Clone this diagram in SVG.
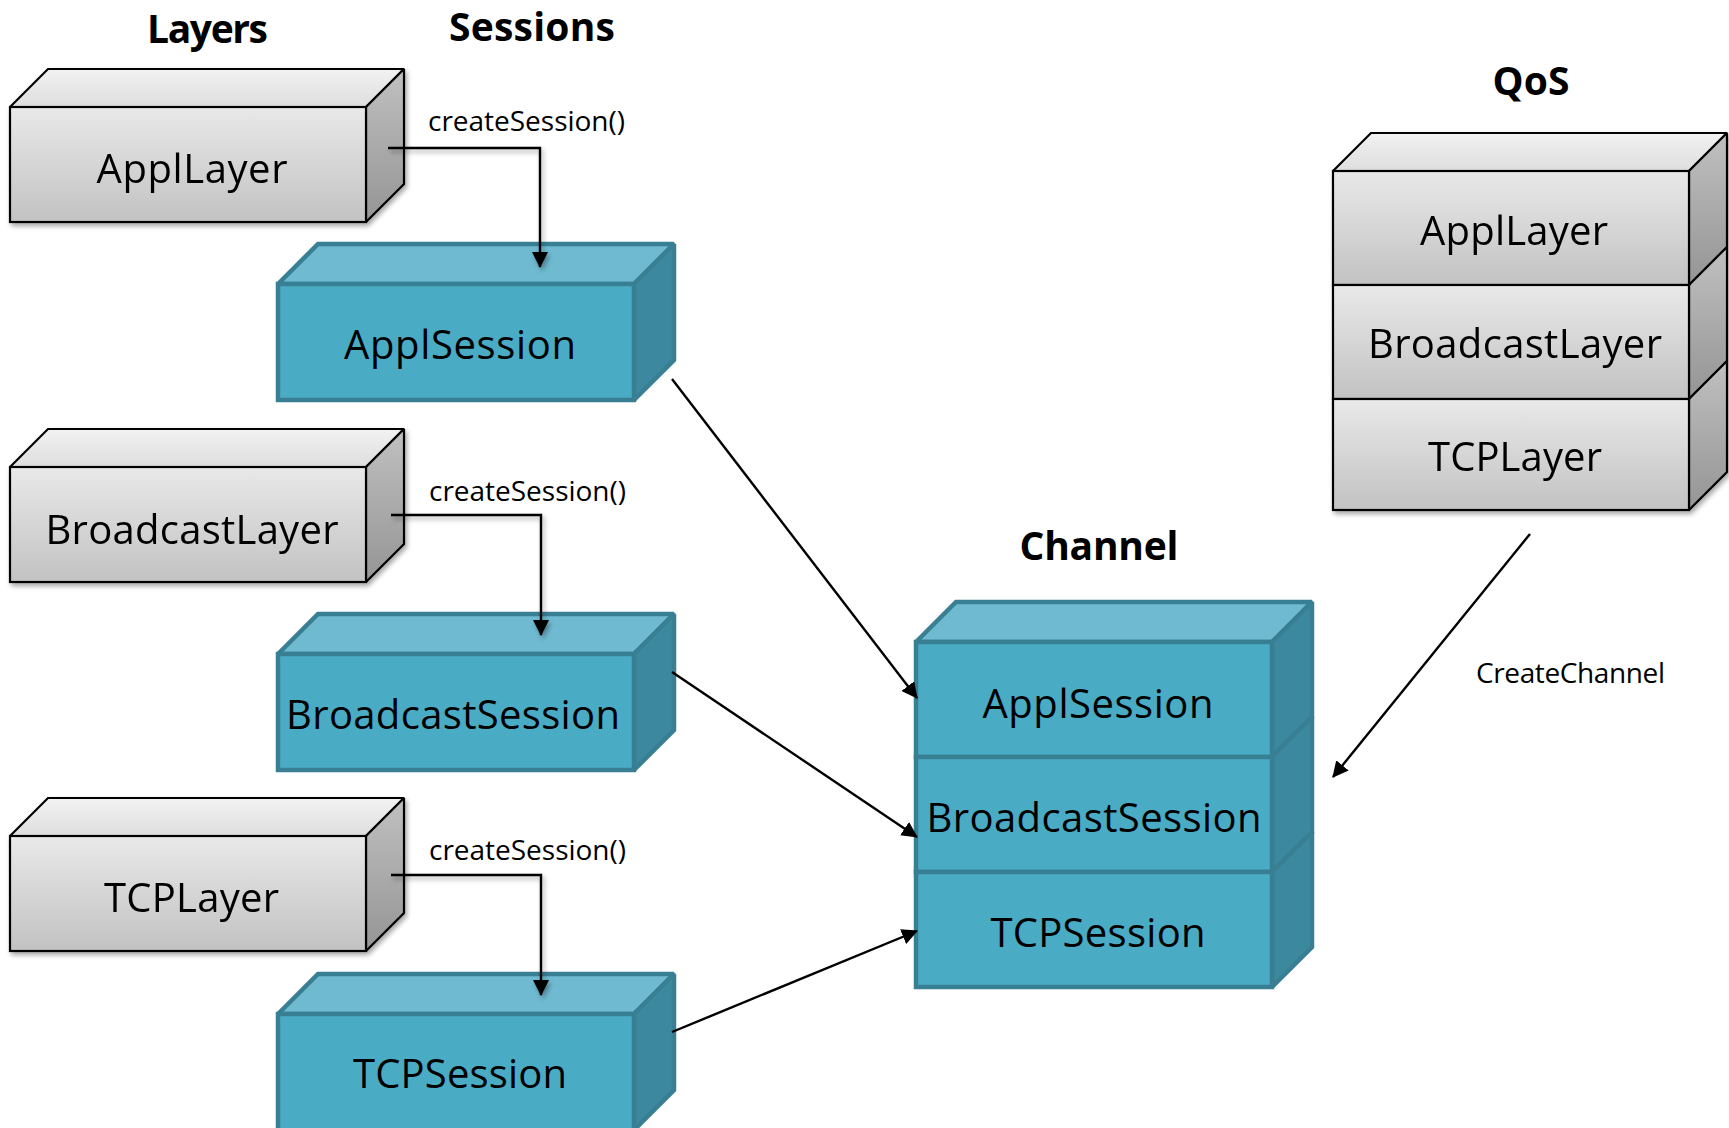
<svg xmlns="http://www.w3.org/2000/svg" width="1729" height="1128" viewBox="0 0 1729 1128">
  <defs>
    <linearGradient id="gFront" x1="0" y1="0" x2="0" y2="1">
      <stop offset="0" stop-color="#e9e9e9"/>
      <stop offset="1" stop-color="#c2c2c2"/>
    </linearGradient>
    <linearGradient id="gTop" x1="0" y1="0" x2="0" y2="1">
      <stop offset="0" stop-color="#f2f2f2"/>
      <stop offset="1" stop-color="#dedede"/>
    </linearGradient>
    <linearGradient id="gSide" x1="0" y1="0" x2="0" y2="1">
      <stop offset="0" stop-color="#c0c0c0"/>
      <stop offset="1" stop-color="#959595"/>
    </linearGradient>
    <filter id="shadow" x="-10%" y="-10%" width="130%" height="140%">
      <feGaussianBlur in="SourceAlpha" stdDeviation="2.5"/>
      <feOffset dx="2" dy="3" result="b"/>
      <feComponentTransfer><feFuncA type="linear" slope="0.35"/></feComponentTransfer>
      <feMerge><feMergeNode/><feMergeNode in="SourceGraphic"/></feMerge>
    </filter>
    <marker id="arrow" viewBox="0 0 16 16" refX="15" refY="8" markerWidth="16" markerHeight="16" markerUnits="userSpaceOnUse" orient="auto">
      <path d="M0,0 L16,8 L0,16 Z" fill="#000"/>
    </marker>
  </defs>
  <style>
    .title { font-family: "Open Sans", "Noto Sans", "Liberation Sans", sans-serif; font-weight: bold; font-size: 39px; fill: #000; text-anchor: middle; }
    .label { font-family: "Open Sans", "Noto Sans", "Liberation Sans", sans-serif; font-size: 40px; fill: #000; text-anchor: middle; }
    .small { font-family: "Open Sans", "Noto Sans", "Liberation Sans", sans-serif; font-size: 28px; fill: #000; text-anchor: middle; }
    .gray .front { fill: url(#gFront); }
    .gray .top { fill: url(#gTop); }
    .gray .side { fill: url(#gSide); }
    .gray path, .gray rect { stroke: #000; stroke-width: 2.2; stroke-linejoin: miter; stroke-miterlimit: 2; }
    .teal .front { fill: #4aabc5; }
    .teal .top { fill: #6fbad1; }
    .teal .side { fill: #3c899f; }
    .teal path, .teal rect { stroke: #387f94; stroke-width: 4.5; stroke-linejoin: miter; stroke-miterlimit: 2; }
    .conn { fill: none; stroke: #000; stroke-width: 2.4; }
  </style>

  <!-- column headings -->
  <g id="titles">
    <text class="title" x="207.5" y="43" textLength="121">Layers</text>
    <text class="title" x="532" y="41" textLength="166">Sessions</text>
    <text class="title" x="1099" y="560" textLength="159">Channel</text>
    <text class="title" x="1531" y="95" textLength="77">QoS</text>
  </g>

  <!-- layer boxes (left column) -->
  <g id="appl-layer" class="gray" filter="url(#shadow)">
    <path class="top" d="M10,107 L48,69 L404,69 L366,107 Z"/>
    <path class="side" d="M366,107 L404,69 L404,184 L366,222 Z"/>
    <rect class="front" x="10" y="107" width="356" height="115"/>
    <text class="label" x="192" y="183" textLength="191">ApplLayer</text>
  </g>
  <g id="broadcast-layer" class="gray" filter="url(#shadow)">
    <path class="top" d="M10,467 L48,429 L404,429 L366,467 Z"/>
    <path class="side" d="M366,467 L404,429 L404,544 L366,582 Z"/>
    <rect class="front" x="10" y="467" width="356" height="115"/>
    <text class="label" x="192" y="544" textLength="293">BroadcastLayer</text>
  </g>
  <g id="tcp-layer" class="gray" filter="url(#shadow)">
    <path class="top" d="M10,836 L48,798 L404,798 L366,836 Z"/>
    <path class="side" d="M366,836 L404,798 L404,913 L366,951 Z"/>
    <rect class="front" x="10" y="836" width="356" height="115"/>
    <text class="label" x="191.5" y="912" textLength="175">TCPLayer</text>
  </g>

  <!-- session boxes -->
  <g id="appl-session" class="teal">
    <path class="top" d="M278,284 L318,244 L674,244 L634,284 Z"/>
    <path class="side" d="M634,284 L674,244 L674,360 L634,400 Z"/>
    <rect class="front" x="278" y="284" width="356" height="116"/>
    <text class="label" x="460" y="359" textLength="232">ApplSession</text>
  </g>
  <g id="broadcast-session" class="teal">
    <path class="top" d="M278,654 L318,614 L674,614 L634,654 Z"/>
    <path class="side" d="M634,654 L674,614 L674,730 L634,770 Z"/>
    <rect class="front" x="278" y="654" width="356" height="116"/>
    <text class="label" x="453" y="729" textLength="334">BroadcastSession</text>
  </g>
  <g id="tcp-session" class="teal">
    <path class="top" d="M278,1014 L318,974 L674,974 L634,1014 Z"/>
    <path class="side" d="M634,1014 L674,974 L674,1090 L634,1130 Z"/>
    <rect class="front" x="278" y="1014" width="356" height="120"/>
    <text class="label" x="460" y="1088" textLength="214">TCPSession</text>
  </g>

  <!-- channel stack -->
  <g id="channel" class="teal">
    <path class="top" d="M916,642 L956,602 L1312,602 L1272,642 Z"/>
    <path class="side" d="M1272,642 L1312,602 L1312,717 L1272,757 Z"/>
    <path class="side" d="M1272,757 L1312,717 L1312,832 L1272,872 Z"/>
    <path class="side" d="M1272,872 L1312,832 L1312,947 L1272,987 Z"/>
    <rect class="front" x="916" y="642" width="356" height="115"/>
    <rect class="front" x="916" y="757" width="356" height="115"/>
    <rect class="front" x="916" y="872" width="356" height="115"/>
    <text class="label" x="1098" y="718" textLength="231">ApplSession</text>
    <text class="label" x="1094" y="832" textLength="335">BroadcastSession</text>
    <text class="label" x="1098" y="947" textLength="215">TCPSession</text>
  </g>

  <!-- QoS stack -->
  <g id="qos" class="gray" filter="url(#shadow)">
    <path class="top" d="M1333,171 L1371,133 L1727,133 L1689,171 Z"/>
    <path class="side" d="M1689,171 L1727,133 L1727,247 L1689,285 Z"/>
    <path class="side" d="M1689,285 L1727,247 L1727,361 L1689,399 Z"/>
    <path class="side" d="M1689,399 L1727,361 L1727,472 L1689,510 Z"/>
    <rect class="front" x="1333" y="171" width="356" height="114"/>
    <rect class="front" x="1333" y="285" width="356" height="114"/>
    <rect class="front" x="1333" y="399" width="356" height="111"/>
    <text class="label" x="1514" y="245" textLength="188">ApplLayer</text>
    <text class="label" x="1515" y="358" textLength="294">BroadcastLayer</text>
    <text class="label" x="1515" y="471" textLength="174">TCPLayer</text>
  </g>

  <!-- connectors -->
  <g id="connectors">
    <g filter="url(#shadow)">
      <path class="conn" d="M388,148 L540,148 L540,267" marker-end="url(#arrow)"/>
      <path class="conn" d="M391,515 L541,515 L541,635" marker-end="url(#arrow)"/>
      <path class="conn" d="M391,875 L541,875 L541,995" marker-end="url(#arrow)"/>
    </g>
    <path class="conn" d="M672,379 L917,698" marker-end="url(#arrow)"/>
    <path class="conn" d="M672,672 L917,837" marker-end="url(#arrow)"/>
    <path class="conn" d="M672,1032 L917,931" marker-end="url(#arrow)"/>
    <path class="conn" d="M1530,534 L1333,777" marker-end="url(#arrow)"/>
    <text class="small" x="526.5" y="131" textLength="197">createSession()</text>
    <text class="small" x="527.5" y="501" textLength="197">createSession()</text>
    <text class="small" x="527.5" y="860" textLength="197">createSession()</text>
    <text class="small" x="1570.5" y="683" textLength="189">CreateChannel</text>
  </g>
</svg>
